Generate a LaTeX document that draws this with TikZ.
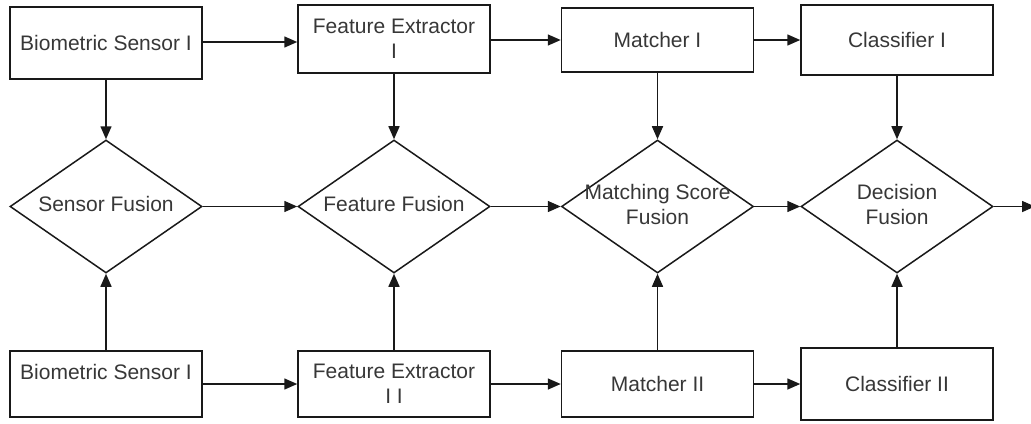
\documentclass[tikz,border=0pt]{standalone}
\usepackage{fontspec}
\setmainfont{Liberation Sans}
\usepackage{tikz}
\usetikzlibrary{shapes.geometric}
\usetikzlibrary{arrows.meta}
\usepackage{xcolor}
\definecolor{LineCol}{RGB}{25,25,25}
\definecolor{TextCol}{RGB}{55,55,55}
\newcommand{\NoWidth}[1]{\makebox[0pt]{\begin{tabular}{@{}c@{}}#1\end{tabular}}}
\tikzstyle{BlockBox}=[rectangle,draw=LineCol,line width=0.75pt,minimum width=96pt,
minimum height=34pt,inner sep=0pt,align=center,text=TextCol,font=\fontsize{10.5}{12.5}\selectfont]
\tikzstyle{BlockFusion}=[diamond,draw=LineCol,line width=0.75pt,minimum width=96pt,
minimum height=66.5pt,inner sep=0pt,text=TextCol,font=\fontsize{10.5}{12.5}\selectfont]
\tikzstyle{FlowArrow}=[LineCol,line width=0.75pt,-{Triangle[length=6.5pt,width=5.5pt]}]

\begin{document}
\begin{tikzpicture}[x=0.5pt,y=-0.5pt]
        \useasboundingbox(0,0)rectangle(1031,423);
        % top row
        \node[BlockBox,minimum height=36pt](sensA)at(106,43){Biometric Sensor I};
        \node[BlockBox](featA)at(394,39){Feature Extractor\\I};
        \node[BlockBox,minimum height=32pt](matchA)at(657.5,40){Matcher I};
        \node[BlockBox,minimum height=35pt](classA)at(897,40){Classifier I};
        % fusion row
        \node[BlockFusion](sensFus)at(106,206.5){\NoWidth{Sensor Fusion}};
        \node[BlockFusion](featFus)at(394,206.5){\NoWidth{Feature Fusion}};
        \node[BlockFusion](matchFus)at(657.5,206.5){\NoWidth{Matching Score\\Fusion}};
        \node[BlockFusion](decFus)at(897,206.5){\NoWidth{Decision\\Fusion}};
        \coordinate(out)at(1035,206.5);
        % bottom row
        \node[BlockBox,minimum height=33pt](sensB)at(106,384){Biometric Sensor I\\\mbox{}};
        \node[BlockBox,minimum height=33pt](featB)at(394,384){Feature Extractor\\I I};
        \node[BlockBox,minimum height=33pt](matchB)at(657.5,384){Matcher II};
        \node[BlockBox,minimum height=36pt](classB)at(897,384){Classifier II};
        % top arrows
        \draw[FlowArrow]([yshift=0.5pt]sensA.east)--([yshift=0.5pt]sensA.east-|featA.west);
        \draw[FlowArrow]([yshift=-0.5pt]featA.east)--([yshift=-0.5pt]featA.east-|matchA.west);
        \draw[FlowArrow](matchA.east)--(matchA.east-|classA.west);
        \draw[FlowArrow](sensA)--(sensFus);
        \draw[FlowArrow](featA)--(featFus);
        \draw[FlowArrow](matchA)--(matchFus);
        \draw[FlowArrow](classA)--(decFus);
        % fusion arrows
        \draw[FlowArrow](sensFus)--(featFus);
        \draw[FlowArrow](featFus)--(matchFus);
        \draw[FlowArrow](matchFus)--(decFus);
        \draw[FlowArrow](decFus)--(out);
        % bottom arrows
        \draw[FlowArrow](sensB)--(sensFus);
        \draw[FlowArrow](featB)--(featFus);
        \draw[FlowArrow](matchB)--(matchFus);
        \draw[FlowArrow](classB)--(decFus);
        \draw[FlowArrow](sensB)--(featB);
        \draw[FlowArrow](featB)--(matchB);
        \draw[FlowArrow](matchB)--(classB);
    \end{tikzpicture}
\end{document}
